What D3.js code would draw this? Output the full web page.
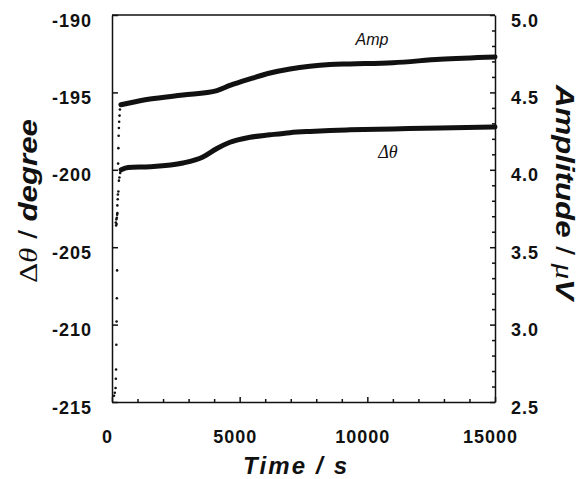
<!DOCTYPE html>
<html>
<head>
<meta charset="utf-8">
<script src="https://cdn.jsdelivr.net/npm/d3@7"></script>
<style>
  body { margin: 0; background: #fff; }
  svg { display: block; }
  .tick text { font-family: "Liberation Sans", Arial, sans-serif; font-weight: bold; font-size: 18px; letter-spacing: 1px; fill: #111; }
  .domain, .tick line { stroke: #111; stroke-width: 1.5; }
</style>
</head>
<body>
<div id="chart"></div>
<script>
// Time axis (s)
const xTicks = [0, 5000, 10000, 15000];
const xMinorTicks = [1000, 2000, 3000, 4000, 6000, 7000, 8000, 9000, 11000, 12000, 13000, 14000];
// Left axis: delta theta (degree)
const leftTicks = [-215, -210, -205, -200, -195, -190];
// Right axis: amplitude (uV)
const rightTicks = [2.5, 3.0, 3.5, 4.0, 4.5, 5.0];
const rightMinorTicks = [2.6, 2.7, 2.8, 2.9, 3.1, 3.2, 3.3, 3.4, 3.6, 3.7, 3.8, 3.9, 4.1, 4.2, 4.3, 4.4, 4.6, 4.7, 4.8, 4.9];

// Amplitude trace
const ampTime = [350, 630, 1490, 2780, 4110, 4620, 5400, 6190, 6970, 7750, 8540, 9320, 11000, 12850, 15000];
const ampValues = [4.42, 4.43, 4.457, 4.483, 4.512, 4.545, 4.587, 4.625, 4.651, 4.669, 4.68, 4.684, 4.692, 4.714, 4.729];
// Amplitude start-up dots
const ampDotTime = [80, 110, 140, 150, 160, 170, 180, 190, 200, 210, 225, 240, 250, 260, 270, 280, 295, 310];
const ampDotValues = [2.54, 2.56, 2.59, 2.65, 2.71, 2.87, 3.02, 3.17, 3.35, 3.72, 3.81, 4.04, 4.14, 4.22, 4.27, 4.31, 4.35, 4.39];

// Delta theta trace
const thetaTime = [360, 630, 1490, 2780, 3560, 4110, 4620, 5400, 6190, 6970, 7750, 8540, 9320, 11000, 12850, 15000];
const thetaValues = [-200.0, -199.85, -199.8, -199.56, -199.17, -198.62, -198.22, -197.9, -197.74, -197.6, -197.52, -197.46, -197.42, -197.36, -197.3, -197.24];
// Delta theta start-up dots
const thetaDotTime = [150, 160, 170, 180, 190, 200, 210, 230, 250, 270, 290, 320];
const thetaDotValues = [-203.4, -203.6, -203.2, -203.5, -203.1, -202.9, -202.3, -201.6, -201.4, -200.7, -200.5, -200.2];

const cfg = {
    width: 582, height: 479,
    left: 112, right: 495, top: 15, bottom: 402,
    ink: '#111'
};

const svg = d3.select('#chart').append('svg')
    .attr('width', cfg.width)
    .attr('height', cfg.height);

// Scales
const x = d3.scaleLinear().domain([0, 15000]).range([cfg.left, cfg.right]);
const yL = d3.scaleLinear().domain([-215, -190]).range([cfg.bottom, cfg.top]);
const yR = d3.scaleLinear().domain([2.5, 5.0]).range([cfg.bottom, cfg.top]);

// Plain hyphen minus, no thousands separator
const plain = d => String(d);

// Frame top line
svg.append('line')
    .attr('x1', cfg.left).attr('x2', cfg.right)
    .attr('y1', cfg.top).attr('y2', cfg.top)
    .attr('stroke', cfg.ink).attr('stroke-width', 1.5);

// Bottom axis, ticks pointing inward
svg.append('g')
    .attr('transform', `translate(0,${cfg.bottom})`)
    .call(d3.axisBottom(x).tickValues(xMinorTicks).tickSize(-3).tickFormat(''))
    .call(g => g.select('.domain').remove());
svg.append('g')
    .attr('transform', `translate(0,${cfg.bottom})`)
    .call(d3.axisBottom(x).tickValues(xTicks).tickSize(-5).tickSizeOuter(0).tickPadding(28).tickFormat(plain))
    .call(g => g.selectAll('text').attr('dx', -5));

// Left axis
svg.append('g')
    .attr('transform', `translate(${cfg.left},0)`)
    .call(d3.axisLeft(yL).tickValues(leftTicks).tickSize(-6).tickSizeOuter(0).tickPadding(20).tickFormat(plain))
    .call(g => g.selectAll('text').attr('dy', '0.62em'));

// Right axis
svg.append('g')
    .attr('transform', `translate(${cfg.right},0)`)
    .call(d3.axisRight(yR).tickValues(rightMinorTicks).tickSize(-3).tickFormat(''))
    .call(g => g.select('.domain').remove());
svg.append('g')
    .attr('transform', `translate(${cfg.right},0)`)
    .call(d3.axisRight(yR).tickValues(rightTicks).tickSize(-5).tickSizeOuter(0).tickPadding(16).tickFormat(d3.format('.1f')))
    .call(g => g.selectAll('text').attr('dy', '0.62em'));

// Traces
const ampLine = d3.line()
    .x((d, i) => x(ampTime[i]))
    .y(d => yR(d))
    .curve(d3.curveMonotoneX);
const thetaLine = d3.line()
    .x((d, i) => x(thetaTime[i]))
    .y(d => yL(d))
    .curve(d3.curveMonotoneX);

svg.append('path')
    .attr('d', ampLine(ampValues))
    .attr('fill', 'none').attr('stroke', cfg.ink)
    .attr('stroke-width', 5).attr('stroke-linecap', 'round');
svg.append('path')
    .attr('d', thetaLine(thetaValues))
    .attr('fill', 'none').attr('stroke', cfg.ink)
    .attr('stroke-width', 5).attr('stroke-linecap', 'round');

// Start-up dots
svg.append('g').selectAll('circle')
    .data(ampDotValues)
    .join('circle')
    .attr('cx', (d, i) => x(ampDotTime[i]))
    .attr('cy', d => yR(d))
    .attr('r', 1.3)
    .attr('fill', cfg.ink);
svg.append('g').selectAll('circle')
    .data(thetaDotValues)
    .join('circle')
    .attr('cx', (d, i) => x(thetaDotTime[i]))
    .attr('cy', d => yL(d))
    .attr('r', 1.3)
    .attr('fill', cfg.ink);

// Curve labels
svg.append('text')
    .attr('x', 372).attr('y', 45)
    .attr('text-anchor', 'middle')
    .style('font-family', '"Liberation Sans", Arial, sans-serif')
    .style('font-style', 'italic').style('font-size', '16px')
    .attr('fill', cfg.ink)
    .text('Amp');
svg.append('text')
    .attr('x', 388).attr('y', 158)
    .attr('text-anchor', 'middle')
    .style('font-family', '"Liberation Serif", serif')
    .style('font-style', 'italic').style('font-size', '18px')
    .attr('fill', cfg.ink)
    .text('Δθ');

// Axis titles
svg.append('text')
    .attr('x', 243).attr('y', 474)
    .attr('textLength', 104).attr('lengthAdjust', 'spacing')
    .style('font-family', '"Liberation Sans", Arial, sans-serif')
    .style('font-weight', 'bold').style('font-style', 'italic').style('font-size', '24px')
    .attr('fill', cfg.ink)
    .text('Time  /  s');

const leftTitle = svg.append('text')
    .attr('transform', 'translate(37,283) rotate(-90)')
    .attr('textLength', 164).attr('lengthAdjust', 'spacingAndGlyphs')
    .style('font-size', '26px')
    .attr('fill', cfg.ink);
leftTitle.append('tspan')
    .style('font-family', '"Liberation Serif", serif')
    .text('Δ');
leftTitle.append('tspan')
    .style('font-family', '"Liberation Serif", serif').style('font-style', 'italic')
    .text('θ');
leftTitle.append('tspan')
    .style('font-family', '"Liberation Sans", Arial, sans-serif')
    .text(' / ');
leftTitle.append('tspan')
    .style('font-family', '"Liberation Sans", Arial, sans-serif')
    .style('font-weight', 'bold').style('font-style', 'italic')
    .text('degree');

const rightTitle = svg.append('text')
    .attr('transform', 'translate(556,85) rotate(90)')
    .attr('textLength', 215).attr('lengthAdjust', 'spacingAndGlyphs')
    .style('font-size', '26px')
    .attr('fill', cfg.ink);
rightTitle.append('tspan')
    .style('font-family', '"Liberation Sans", Arial, sans-serif')
    .style('font-weight', 'bold').style('font-style', 'italic')
    .text('Amplitude');
rightTitle.append('tspan')
    .style('font-family', '"Liberation Sans", Arial, sans-serif')
    .text(' / ');
rightTitle.append('tspan')
    .style('font-family', '"Liberation Serif", serif').style('font-style', 'italic')
    .text('μ');
rightTitle.append('tspan')
    .style('font-family', '"Liberation Sans", Arial, sans-serif')
    .style('font-weight', 'bold').style('font-style', 'italic')
    .text('V');
</script>
</body>
</html>
